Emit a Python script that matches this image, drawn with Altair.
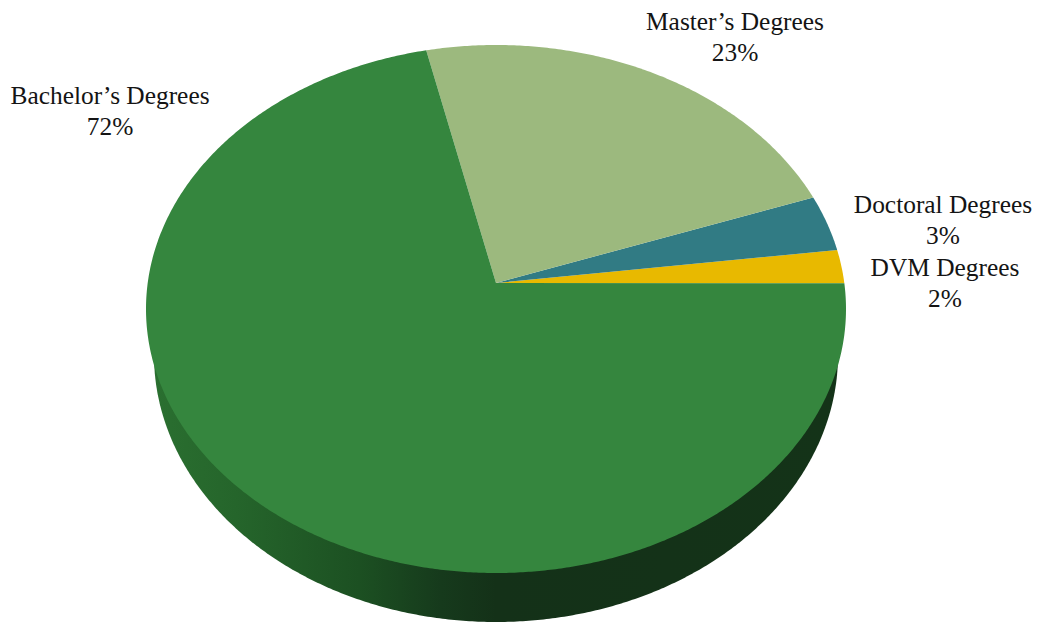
import numpy as np
import pandas as pd
import altair as alt

# Chart data (counter-clockwise from the first wedge edge, shares)
categories = ["DVM Degrees", "Doctoral Degrees", "Master's Degrees", "Bachelor's Degrees"]
shares = [2.03, 3.36, 21.25, 73.36]
percent_labels = ["2%", "3%", "23%", "72%"]
colors = ["#e8b900", "#317b84", "#9cb97e", "#35863e"]
text_labels = ["DVM Degrees\n2%", "Doctoral Degrees\n3%", "Master\u2019s Degrees\n23%", "Bachelor\u2019s Degrees\n72%"]
label_x = [945, 943, 735, 110]
label_y = [268, 205, 22, 96]

W, H = 1025, 615
CX, CY, RX, RY = 496, 309, 350, 264     # top face ellipse
APEX_Y = 283
RIM_CY, RIM_RX, RIM_RY = 355, 342, 267  # lower rim ellipse
START = 5.6

rows = []
t0 = START
for cat, s in zip(categories, shares):
    t1 = t0 + s * 3.6
    ts = np.linspace(t0, t1, max(int(s * 8), 8))
    rows.append({"cat": cat, "k": 0, "x": CX, "y": APEX_Y})
    for i, t in enumerate(np.radians(ts)):
        rows.append({"cat": cat, "k": i + 1, "x": CX + RX * np.cos(t), "y": CY - RY * np.sin(t)})
    t0 = t1
slices = pd.DataFrame(rows)

tt = np.radians(np.linspace(180, 360, 361))
rim = pd.DataFrame({
    "x": CX + RIM_RX * np.cos(tt),
    "y": RIM_CY - RIM_RY * np.sin(tt),
    "y0": RIM_CY,
})

labels = pd.DataFrame({"t": text_labels, "x": label_x, "y": label_y})

xs = alt.Scale(domain=[8, 8 + W], range=[0, W], nice=False, zero=False)
ys = alt.Scale(domain=[8, 8 + H], range=[0, H], nice=False, zero=False)
X = alt.X("x:Q", scale=xs, axis=None)
Y = alt.Y("y:Q", scale=ys, axis=None)

rim_layer = alt.Chart(rim).mark_area(
    color=alt.Gradient(
        gradient="linear", x1=0, x2=1, y1=0, y2=0,
        stops=[
            alt.GradientStop(offset=0.0, color="#2a6f30"),
            alt.GradientStop(offset=0.12, color="#25652b"),
            alt.GradientStop(offset=0.3, color="#1c5022"),
            alt.GradientStop(offset=0.42, color="#163a1c"),
            alt.GradientStop(offset=0.5, color="#143118"),
            alt.GradientStop(offset=1.0, color="#143318"),
        ],
    )
).encode(x=X, y=Y, y2="y0:Q")

slice_layer = alt.Chart(slices).mark_line(
    filled=True, interpolate="linear-closed"
).encode(
    x=X, y=Y,
    order="k:Q",
    color=alt.Color("cat:N", scale=alt.Scale(domain=categories, range=colors), legend=None),
)

text_layer = alt.Chart(labels).mark_text(
    font="Liberation Serif", fontSize=25.4, color="#141414",
    lineBreak="\n", lineHeight=31, align="center", baseline="middle",
).encode(x=X, y=Y, text="t:N")

chart = alt.layer(rim_layer, slice_layer, text_layer).properties(
    width=W, height=H, padding=0, background="white",
    autosize=alt.AutoSizeParams(type="none"),
).configure_view(stroke=None)

chart.save("out.html", embed_options={"renderer": "svg", "actions": False})
